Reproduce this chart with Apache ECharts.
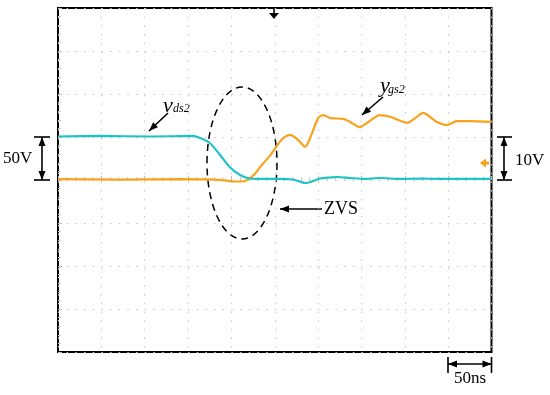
<!DOCTYPE html>
<html><head><meta charset="utf-8">
<script src="https://cdn.jsdelivr.net/npm/echarts@6/dist/echarts.min.js"></script>
<style>html,body{margin:0;padding:0;background:#fff}#c{width:550px;height:395px}</style>
</head><body><div id="c"></div>
<script>
// time in ns (50 ns / division), voltages in V
const vdsTime = [0, 48, 106, 155, 164, 175, 187, 198, 210, 221, 233, 250, 271, 280, 285, 293, 302, 314, 322, 337, 354, 371, 394, 418, 441, 464, 487, 500];
const vdsVolt = [50.6, 51.2, 50.6, 51.2, 48.8, 43.0, 29.1, 15.1, 5.8, 1.7, 1.2, 1.2, 0.6, -2.3, -3.5, -1.7, 1.7, 2.9, 3.5, 2.3, 1.2, 2.3, 1.2, 1.7, 1.2, 1.2, 1.2, 1.2];
const vgsTime = [0, 72, 141, 181, 193, 204, 213, 219, 227, 233, 245, 253, 260, 268, 277, 285, 293, 300, 306, 314, 329, 337, 348, 358, 371, 383, 403, 412, 421, 437, 449, 460, 475, 500];
const vgsVolt = [0.2, 0.1, 0.2, 0.1, -0.1, -0.35, -0.35, 0.1, 1.4, 3.0, 5.8, 8.1, 9.8, 10.5, 9.3, 7.7, 10.9, 14.4, 15.1, 14.4, 14.2, 13.5, 12.3, 13.5, 15.1, 14.7, 13.3, 14.4, 15.6, 13.5, 12.8, 13.7, 13.7, 13.5];
const timeRange = [0, 500];      // 10 divisions x 50 ns
const vdsRange = [-200, 200];    // 50 V / div
const vgsRange = [-40, 40];      // 10 V / div
const labels = {vds: ['v', 'ds2'], vgs: ['y', 'gs2'], zvs: 'ZVS', vdsScale: '50V', vgsScale: '10V', timeScale: '50ns'};

const CYAN = '#1ec3c6', ORANGE = '#f8a21c';
const SERIF = '"Liberation Serif", "DejaVu Serif", serif';
const gridDot = {color: '#c6c6c6', width: 1, type: [1.5, 7.17]};

function zip(a, b) { return a.map((x, i) => [x, b[i]]); }

function arrowHead(x, y, dx, dy, len, wid) {
  const L = Math.hypot(dx, dy); const ux = dx / L, uy = dy / L;
  const bx = x - ux * len, by = y - uy * len;
  return {type: 'polygon', shape: {points: [[x, y], [bx - uy * wid / 2, by + ux * wid / 2], [bx + uy * wid / 2, by - ux * wid / 2]]},
    style: {fill: '#000'}, silent: true};
}
function arrow(x1, y1, x2, y2, both) {
  const els = [{type: 'line', shape: {x1, y1, x2, y2}, style: {stroke: '#000', lineWidth: 1.6}, silent: true},
    arrowHead(x2, y2, x2 - x1, y2 - y1, 9, 7)];
  if (both) els.push(arrowHead(x1, y1, x1 - x2, y1 - y2, 9, 7));
  return els;
}
function seg(x1, y1, x2, y2) {
  return {type: 'line', shape: {x1, y1, x2, y2}, style: {stroke: '#000', lineWidth: 1.6}, silent: true};
}
function txt(t, x, y, size, italic, align) {
  return {type: 'text', x, y, silent: true,
    style: {text: t, font: (italic ? 'italic ' : '') + size + 'px ' + SERIF, fill: '#000', align: align || 'left', verticalAlign: 'middle'}};
}

const chart = echarts.init(document.getElementById('c'), null, {renderer: 'canvas'});
const graphics = [].concat(
  [{type: 'ellipse', shape: {cx: 242, cy: 163, rx: 35, ry: 76}, style: {fill: 'none', stroke: '#000', lineWidth: 1.5, lineDash: [7, 5]}, silent: true}],
  arrow(168, 113, 149, 131),
  arrow(383, 97, 362, 115),
  arrow(322, 209, 280, 209),
  // 50V scale
  [seg(34, 137, 50, 137), seg(34, 180, 50, 180)], arrow(42, 137, 42, 180, true),
  // 10V scale
  [seg(497, 137, 512, 137), seg(497, 180, 512, 180)], arrow(504, 137, 504, 180, true),
  // 50ns scale
  [seg(448, 357, 448, 373), seg(491.5, 357, 491.5, 373)], arrow(448, 364, 491.5, 364, true),
  // trigger marker and channel ground marker
  [seg(274, 8, 274, 13),
   {type: 'polygon', shape: {points: [[269, 13], [279, 13], [274, 19]]}, style: {fill: '#000'}, silent: true},
   {type: 'polygon', shape: {points: [[480, 163], [486, 158.5], [486, 167.5]]}, style: {fill: ORANGE}, silent: true},
   {type: 'rect', shape: {x: 485, y: 161.5, width: 4, height: 3}, style: {fill: ORANGE}, silent: true}],
  [txt(labels.vds[0], 163, 106, 22, true), txt(labels.vds[1], 173, 109, 12, true),
   txt(labels.vgs[0], 380, 86, 22, true), txt(labels.vgs[1], 388, 90, 12, true),
   txt(labels.zvs, 324, 209.5, 18, false),
   txt(labels.vdsScale, 3, 159, 17, false),
   txt(labels.vgsScale, 515, 161, 17, false),
   txt(labels.timeScale, 470, 379, 17, false, 'center')]
);

chart.setOption({
  animation: false,
  backgroundColor: '#fff',
  grid: {left: 58, top: 8, right: 58.5, bottom: 43, show: true, borderColor: '#000', borderWidth: 2, backgroundColor: 'transparent'},
  xAxis: {type: 'value', min: timeRange[0], max: timeRange[1], interval: 50,
    axisLine: {show: false}, axisLabel: {show: false},
    axisTick: {show: true, inside: true, length: 4, lineStyle: {color: '#bbb'}},
    minorTick: {show: true, splitNumber: 5, length: 3, lineStyle: {color: '#ccc'}},
    splitLine: {show: true, lineStyle: gridDot}},
  yAxis: [
    {type: 'value', min: vdsRange[0], max: vdsRange[1], interval: 50,
      axisLine: {show: false, onZero: false}, axisLabel: {show: false},
      axisTick: {show: true, inside: true, length: 4, lineStyle: {color: '#bbb'}},
      minorTick: {show: true, splitNumber: 5, length: 3, lineStyle: {color: '#ccc'}},
      splitLine: {show: true, lineStyle: gridDot}},
    {type: 'value', min: vgsRange[0], max: vgsRange[1], interval: 10, show: false, splitLine: {show: false}}
  ],
  series: [
    {type: 'line', name: 'vds2', yAxisIndex: 0, data: zip(vdsTime, vdsVolt), showSymbol: false, smooth: 0.25,
      lineStyle: {color: CYAN, width: 2.2}, z: 3},
    {type: 'line', name: 'vgs2', yAxisIndex: 1, data: zip(vgsTime, vgsVolt), showSymbol: false, smooth: 0.25,
      lineStyle: {color: ORANGE, width: 2.2}, z: 2}
  ],
  graphic: graphics
});
</script></body></html>
